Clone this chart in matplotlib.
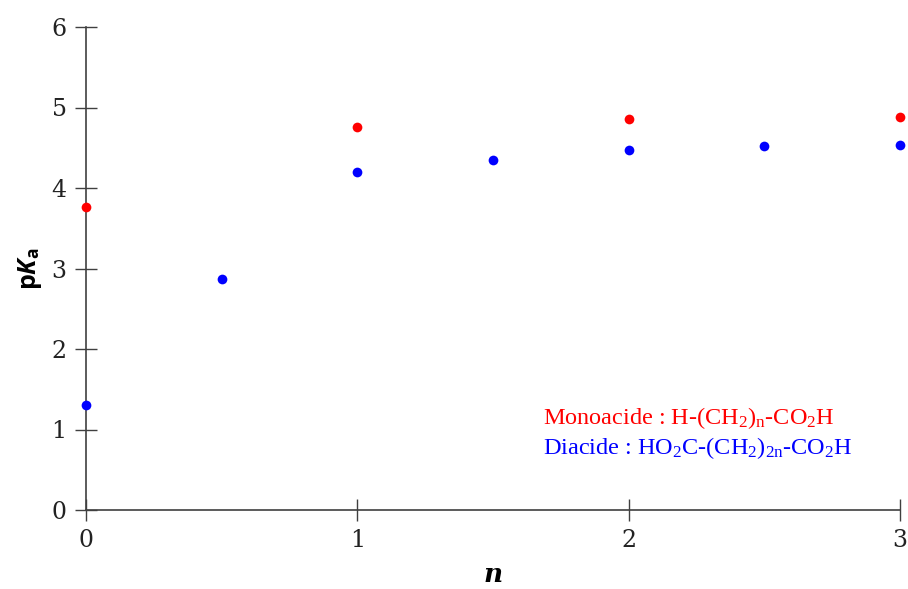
import matplotlib
matplotlib.use("Agg")
import matplotlib.pyplot as plt

# pKa values
mono_n = [0, 1, 2, 3]
mono_pka = [3.77, 4.76, 4.86, 4.88]

di_n = [0, 0.5, 1, 1.5, 2, 2.5, 3]
di_pka = [1.30, 2.87, 4.20, 4.35, 4.47, 4.52, 4.53]

x_ticks = [0, 1, 2, 3]
y_ticks = [0, 1, 2, 3, 4, 5, 6]

plt.rcParams['mathtext.fontset'] = 'custom'
plt.rcParams['mathtext.rm'] = 'Liberation Serif'
plt.rcParams['mathtext.it'] = 'Liberation Serif:italic'
plt.rcParams['mathtext.bf'] = 'Liberation Serif:bold'
plt.rcParams['mathtext.sf'] = 'Open Sans:bold'
plt.rcParams['mathtext.bfit'] = 'Open Sans:italic:bold'

fig = plt.figure(figsize=(9.08, 5.89), dpi=100)
ax = fig.add_axes([86 / 908, 1 - 510 / 589, 814 / 908, 483 / 589])

ax.plot(mono_n, mono_pka, 'o', color='#ff0000', ms=7, mec='none', clip_on=False, zorder=3)
ax.plot(di_n, di_pka, 'o', color='#0000ff', ms=7, mec='none', clip_on=False, zorder=3)

ax.set_xlim(0, 3)
ax.set_ylim(0, 6)
ax.set_xticks(x_ticks)
ax.set_yticks(y_ticks)

for s in ['top', 'right']:
    ax.spines[s].set_visible(False)
for s in ['left', 'bottom']:
    ax.spines[s].set_color('#404040')
    ax.spines[s].set_linewidth(1.2)

ax.tick_params(direction='inout', length=16, width=1, color='#404040',
               labelsize=17, pad=6)
for lab in ax.get_xticklabels() + ax.get_yticklabels():
    lab.set_family('DejaVu Serif')
    lab.set_color('#222222')

ax.set_ylabel(r'p$\mathbfit{K}_\mathsf{a}$', fontsize=18, fontweight='bold',
              family='Open Sans', labelpad=5)
ax.set_xlabel('n', fontsize=19, fontweight='bold', style='italic',
              family='DejaVu Serif', labelpad=7)

ax.text(0.561, 0.178, r'Monoacide : H-(CH$_2$)$_\mathrm{n}$-CO$_2$H',
        transform=ax.transAxes, color='#ff0000', fontsize=17.5, family='Liberation Serif')
ax.text(0.561, 0.115, r'Diacide : HO$_2$C-(CH$_2$)$_\mathrm{2n}$-CO$_2$H',
        transform=ax.transAxes, color='#0000ff', fontsize=17.5, family='Liberation Serif')

fig.savefig('out.png', dpi=100)
